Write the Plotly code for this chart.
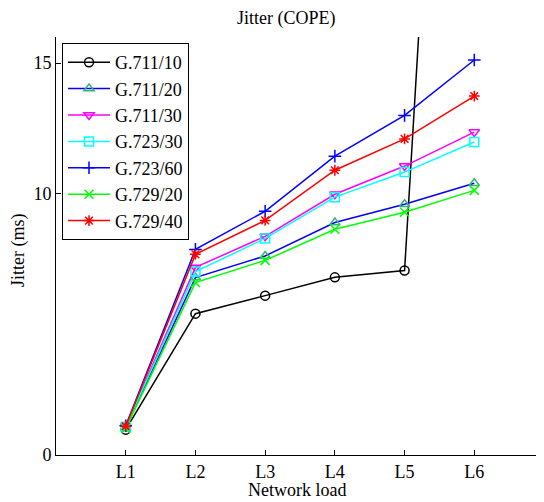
import plotly.graph_objects as go

categories = ["L1", "L2", "L3", "L4", "L5", "L6"]

g711_10 = [0.97, 5.41, 6.10, 6.80, 7.06, 51.6]
g711_20 = [1.05, 6.79, 7.62, 8.90, 9.60, 10.40]
g711_30 = [1.10, 7.18, 8.37, 9.98, 11.06, 12.36]
g723_30 = [1.08, 7.02, 8.29, 9.87, 10.83, 11.98]
g723_60 = [1.12, 7.87, 9.33, 11.44, 13.00, 15.12]
g729_20 = [1.02, 6.60, 7.45, 8.64, 9.29, 10.13]
g729_40 = [1.10, 7.68, 8.98, 10.90, 12.10, 13.74]

y_ticks = [0, 10, 15]

series = [
    ("G.711/10", g711_10, "#000000", "#000000", "circle-open"),
    ("G.711/20", g711_20, "#0000ff", "#3cb07a", "triangle-up-open"),
    ("G.711/30", g711_30, "#ff00ff", "#ff00ff", "triangle-down-open"),
    ("G.723/30", g723_30, "#00ffff", "#00ffff", "square-open"),
    ("G.723/60", g723_60, "#0000ff", "#0000ff", "cross-thin-open"),
    ("G.729/20", g729_20, "#00ff00", "#00ff00", "x-thin-open"),
    ("G.729/40", g729_40, "#ff0000", "#ff0000", "asterisk-open"),
]

fig = go.Figure()
for name, vals, lc, mc, sym in series:
    fig.add_trace(go.Scatter(
        x=categories, y=vals, name=name, mode="lines+markers",
        line=dict(color=lc, width=1.5),
        marker=dict(symbol=sym, size=9, color=mc, line=dict(color=mc, width=1.5)),
        cliponaxis=True,
    ))

font_family = "Liberation Serif, Times New Roman, serif"

# page has an 8px body margin, so the figure is drawn 8px smaller and offset
OFF = 8
W, H = 544 - OFF, 502 - OFF
L, T = 56 - OFF, 37 - OFF
B = H - (455 - OFF)
R = 0
pw, ph = W - L - R, H - T - B

fig.update_layout(
    width=W, height=H,
    margin=dict(l=L, r=R, t=T, b=B, pad=0),
    paper_bgcolor="white", plot_bgcolor="white",
    font=dict(family=font_family, size=18, color="black"),
    showlegend=True,
    legend=dict(
        x=(62 - 56) / pw, y=(455 - 43) / ph, xanchor="left", yanchor="top",
        bgcolor="white", bordercolor="black", borderwidth=1,
        font=dict(family=font_family, size=18, color="black"),
        tracegroupgap=0, itemwidth=42,
    ),
    xaxis=dict(
        type="category", range=[-1, 6], automargin=False,
        showline=True, linecolor="black", linewidth=1,
        ticks="inside", ticklen=5, tickcolor="black",
        showgrid=False, zeroline=False,
        tickfont=dict(size=18),
    ),
    yaxis=dict(
        range=[0, 16], tickvals=y_ticks, automargin=False,
        showline=True, linecolor="black", linewidth=1,
        ticks="inside", ticklen=5, tickcolor="black",
        showgrid=False, zeroline=False,
        tickfont=dict(size=18),
    ),
    annotations=[
        dict(text="Jitter (COPE)", xref="paper", yref="paper",
             x=(286 - 56) / pw, y=1.0, yshift=19, xanchor="center", yanchor="middle",
             showarrow=False, font=dict(family=font_family, size=18)),
        dict(text="Network load", xref="paper", yref="paper",
             x=(297 - 56) / pw, y=0, yshift=-35, xanchor="center", yanchor="middle",
             showarrow=False, font=dict(family=font_family, size=18)),
        dict(text="Jitter (ms)", xref="paper", yref="paper",
             x=0, xshift=-38, y=(455 - 250) / ph, xanchor="center", yanchor="middle",
             textangle=-90, showarrow=False, font=dict(family=font_family, size=18)),
    ],
)

fig.write_html("out.html")
